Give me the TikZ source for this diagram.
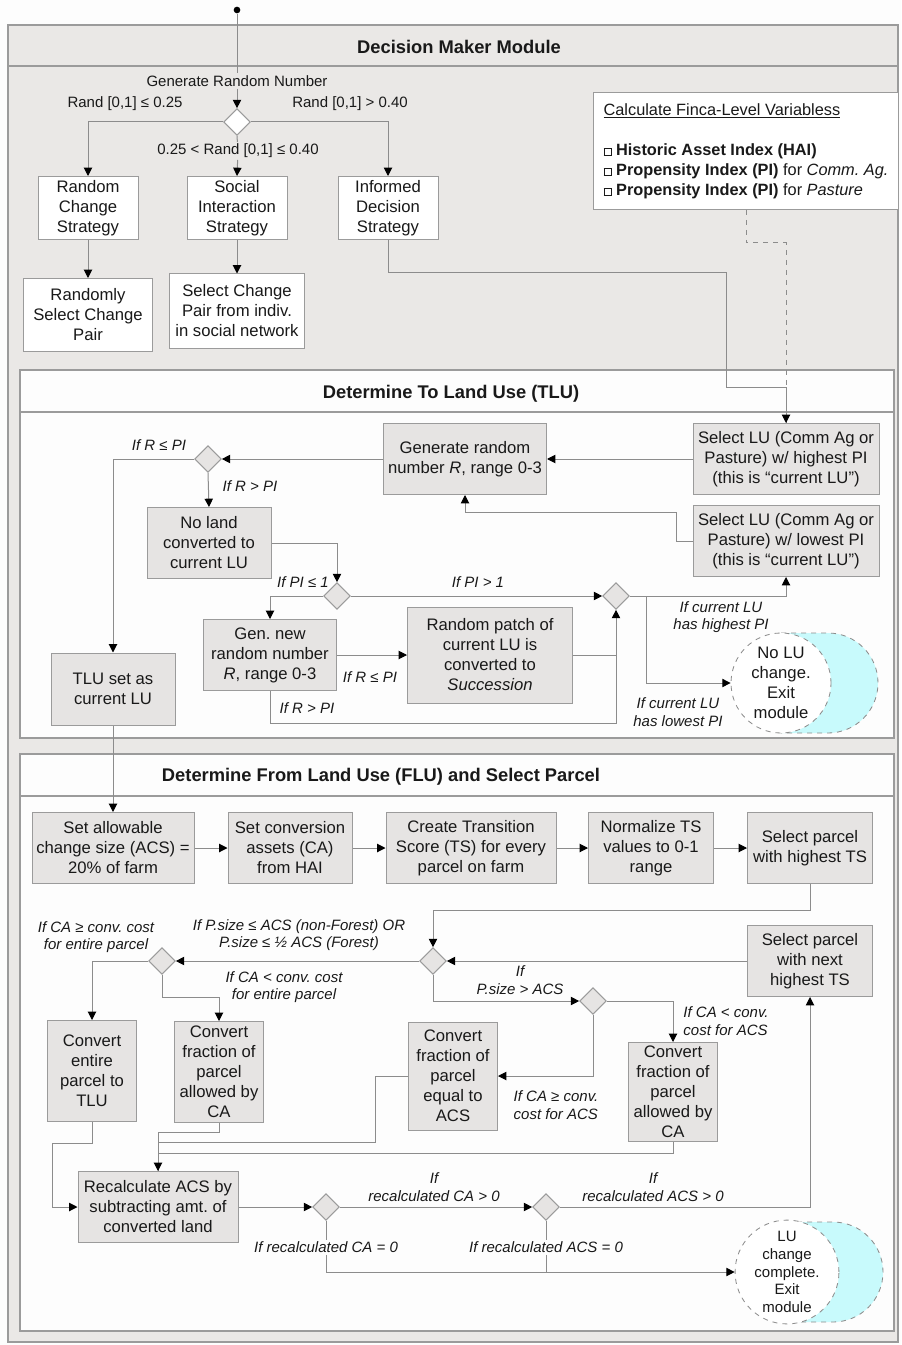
\documentclass[tikz,border=0pt]{standalone}
\usepackage{fontspec}
\setmainfont{Liberation Sans}
\usetikzlibrary{arrows.meta,positioning,shapes.geometric}
\frenchspacing

\definecolor{panel}{RGB}{234,232,230}
\definecolor{boxgray}{RGB}{230,228,227}
\definecolor{sheet}{RGB}{253,253,253}
\definecolor{linec}{RGB}{140,140,140}
\definecolor{edge}{RGB}{155,155,155}
\definecolor{moon}{RGB}{200,250,252}
\definecolor{ink}{RGB}{25,25,25}

\newcommand{\chk}{\raisebox{0ex}{\fboxsep=0pt\fboxrule=0.4pt\fbox{\rule{0pt}{4pt}\hspace{4pt}}}}

\begin{document}
\begin{tikzpicture}[x=0.6pt, y=-0.6pt,
  font=\fontsize{10}{12}\selectfont, text=ink,
  sz/.style 2 args={minimum width=#1*0.6pt, minimum height=#2*0.6pt},
  wbox/.style={draw=edge, fill=white, align=center, inner sep=2pt, line width=0.6pt},
  gbox/.style={draw=edge, fill=boxgray, align=center, inner sep=2pt, line width=0.6pt},
  cond/.style={diamond, draw=edge, fill=boxgray, minimum width=16pt,
    minimum height=16pt, inner sep=0pt, line width=0.6pt},
  lbl/.style={font=\fontsize{9}{10.5}\selectfont\itshape, align=center, inner sep=1pt},
  plbl/.style={lbl, font=\fontsize{9}{10.5}\selectfont},
  ln/.style={draw=linec, line width=0.6pt},
  arr/.style={ln, -{Triangle[length=5pt, width=5pt, color=black]}},
  term/.style={circle, draw=linec, dashed, fill=white, align=center,
    minimum size=60pt, inner sep=0pt, line width=0.5pt},
  moonfill/.style={draw=linec, dashed, fill=moon, line width=0.5pt},
  secframe/.style={draw=edge, line width=1pt},
  ttl/.style={font=\fontsize{11}{13}\selectfont\bfseries}
]
\useasboundingbox (0,0) rectangle (901,1345);
\fill[sheet] (0,0) rectangle (901,1345);

% module frame and the two sub-sections
\draw[secframe, fill=panel] (8,25) rectangle (898,1342);
\draw[secframe] (8,66) -- (898,66);
\node[ttl] (dmm) at (459,47) {Decision Maker Module};

\draw[secframe, fill=sheet] (20,370) rectangle (894,738);
\draw[secframe] (20,412) -- (894,412);
\node[ttl] (tlut) at (451,394) {Determine To Land Use (TLU)};

\draw[secframe, fill=sheet] (20,754) rectangle (894,1331);
\draw[secframe] (20,796) -- (894,796);
\node[ttl] (flut) at (381,777) {Determine From Land Use (FLU) and Select Parcel};

% strategy choice
\node[circle, fill=black, inner sep=0pt, minimum size=4pt] (start) at (237,10) {};
\node[plbl, fill=panel] (genlbl) at (237,81) {Generate Random Number};
\node[cond, fill=white] (dec0) at (237,122) {};
\node[wbox, sz={100}{63}] (rcs) at (88,208) {Random\\Change\\Strategy};
\node[wbox, sz={100}{63}] (sis) at (237,208) {Social\\Interaction\\Strategy};
\node[wbox, sz={100}{63}] (ids) at (388,208) {Informed\\Decision\\Strategy};
\node[wbox, sz={129}{73}] (rscp) at (88,315) {Randomly\\Select Change\\Pair};
\node[wbox, sz={135}{74}] (scp) at (237,311) {Select Change\\Pair from indiv.\\in social network};
\node[wbox, anchor=north west, sz={305}{117}, align=left, font=\fontsize{9.8}{12}\selectfont] (finca) at (593,92)
  {\underline{Calculate Finca-Level Variabless}\\[12pt]
   \chk\ \textbf{Historic Asset Index (HAI)}\\
   \chk\ \textbf{Propensity Index (PI)} for \textit{Comm. Ag.}\\
   \chk\ \textbf{Propensity Index (PI)} for \textit{Pasture}};

\node[plbl] (l25) at (125,104) {Rand [0,1] ≤ 0.25};
\node[plbl] (l40) at (350,104) {Rand [0,1] > 0.40};
\node[plbl, fill=panel] (lmid) at (238,151) {0.25 < Rand [0,1] ≤ 0.40};

\draw[ln] (start) -- (genlbl);
\draw[arr] (genlbl) -- (dec0);
\draw[arr] (dec0.west) -| (rcs.north);
\draw[arr] (dec0.east) -| (ids.north);
\draw[ln] (dec0.south) -- (lmid);
\draw[arr] (lmid) -- (sis.north);
\draw[arr] (rcs) -- (rscp);
\draw[arr] (sis) -- (scp);

% to land use
\node[gbox, sz={163}{71}] (genr) at (465,459) {Generate random\\number \textit{R}, range 0-3};
\node[gbox, sz={186}{71}] (selhi) at (786,459) {Select LU (Comm Ag or\\Pasture) w/ highest PI\\(this is “current LU”)};
\node[gbox, sz={186}{71}] (sello) at (786,541) {Select LU (Comm Ag or\\Pasture) w/ lowest PI\\(this is “current LU”)};
\node[cond] (d1) at (208,459) {};
\node[gbox, sz={124}{71}] (noland) at (209,543) {No land\\converted to\\current LU};
\node[cond] (d2) at (337,596) {};
\node[gbox, sz={133}{71}] (gennew) at (270,655) {Gen. new\\random number\\\textit{R}, range 0-3};
\node[cond] (d3) at (616,596) {};
\node[gbox, sz={165}{96}] (patch) at (490,655) {Random patch of\\current LU is\\converted to\\\textit{Succession}};
\node[gbox, sz={124}{72}] (tluset) at (113,689) {TLU set as\\current LU};
\coordinate (nolup) at (781,683);
\draw[moonfill] (nolup) ++(0,-50) -- ++(47,0) arc[start angle=90, end angle=-90, radius=30pt] -- ++(-47,0) -- cycle;
\node[term] (nolu) at (nolup) {No LU\\change.\\Exit\\module};

\node[lbl] (lr1) at (159,445) {If R ≤ PI};
\node[lbl] (lr2) at (250,486) {If R > PI};
\node[lbl] (lpi1) at (303,582) {If PI ≤ 1};
\node[lbl] (lpi2) at (478,582) {If PI > 1};
\node[lbl] (lr3) at (370,677) {If R ≤ PI};
\node[lbl] (lr4) at (307,708) {If R > PI};
\node[lbl] (lhi) at (721,617) {If current LU\\has highest PI};
\node[lbl] (llo) at (678,712) {If current LU\\has lowest PI};

\draw[ln, dashed] (finca.south) -- ++(0,33) -| (selhi.north);
\draw[arr] (ids.south) -- ++(0,33) -- ++(338,0) -- ++(0,114) -| (selhi.north);
\draw[arr] (selhi) -- (genr);
\draw[arr] (sello.west) -- ++(-16,0) -- ++(0,-29) -| (genr.south);
\draw[arr] (genr) -- (d1);
\draw[arr] (d1.west) -| (tluset.north);
\draw[arr] (d1.south) -- (noland.north);
\draw[arr] (noland.east) -| (d2.north);
\draw[arr] (d2.west) -| (gennew.north);
\draw[arr] (d2.east) -- (d3.west);
\draw[arr] (gennew) -- (patch);
\draw[ln] (patch.east) -- (patch.east -| d3.south);
\draw[arr] (gennew.south) -- ++(0,32) -| (d3.south);
\draw[arr] (d3.east) -| (sello.south);
\draw[arr] (d3.east) -- ++(17,0) |- (nolu.west);

% from land use and parcel selection
\node[gbox, sz={162}{71}] (setacs) at (113,848) {Set allowable\\change size (ACS) =\\20\% of farm};
\node[gbox, sz={124}{71}] (setca) at (290,848) {Set conversion\\assets (CA)\\from HAI};
\node[gbox, sz={170}{71}] (crts) at (471,848) {Create Transition\\Score (TS) for every\\parcel on farm};
\node[gbox, sz={125}{71}] (norm) at (651,848) {Normalize TS\\values to 0-1\\range};
\node[gbox, sz={125}{71}] (selts) at (810,848) {Select parcel\\with highest TS};
\node[gbox, sz={125}{71}] (selnext) at (810,961) {Select parcel\\with next\\highest TS};
\node[cond] (da) at (433,961) {};
\node[cond] (db) at (162,961) {};
\node[cond] (dc) at (593,1001) {};
\node[gbox, sz={89}{101}] (conventire) at (92,1071) {Convert\\entire\\parcel to\\TLU};
\node[gbox, sz={89}{101}] (convcal) at (219,1072) {Convert\\fraction of\\parcel\\allowed by\\CA};
\node[gbox, sz={89}{108}] (convacs) at (453,1076) {Convert\\fraction of\\parcel\\equal to\\ACS};
\node[gbox, sz={89}{99}] (convcar) at (673,1092) {Convert\\fraction of\\parcel\\allowed by\\CA};
\node[gbox, sz={160}{71}] (recalc) at (158,1207) {Recalculate ACS by\\subtracting amt. of\\converted land};
\node[cond] (dd) at (326,1207) {};
\node[cond] (de) at (546,1207) {};
\coordinate (luccp) at (787,1272);
\draw[moonfill] (luccp) ++(0,-50) -- ++(46,0) arc[start angle=90, end angle=-90, radius=30pt] -- ++(-46,0) -- cycle;
\node[term, font=\fontsize{9}{10.6}\selectfont] (lucc) at (luccp) {LU\\change\\complete.\\Exit\\module};

\node[lbl] (lps) at (299,935) {If P.size ≤ ACS (non-Forest) OR\\P.size ≤ ½ ACS (Forest)};
\node[lbl] (lcage) at (96,937) {If CA ≥ conv. cost\\for entire parcel};
\node[lbl] (lcalt) at (284,987) {If CA < conv. cost\\for entire parcel};
\node[lbl] (lpgt) at (520,980) {If\\P.size > ACS};
\node[lbl, align=left] (lacslt) at (726,1021) {If CA < conv.\\cost for ACS};
\node[lbl, align=left] (lacsge) at (556,1105) {If CA ≥ conv.\\cost for ACS};
\node[lbl] (lcagt) at (434,1187) {If\\recalculated CA > 0};
\node[lbl] (lacsgt) at (653,1187) {If\\recalculated ACS > 0};
\node[lbl, fill=sheet] (lcaeq) at (326,1247) {If recalculated CA = 0};
\node[lbl, fill=sheet] (lacseq) at (546,1247) {If recalculated ACS = 0};

\draw[arr] (tluset.south) -- (setacs.north);
\draw[arr] (setacs) -- (setca);
\draw[arr] (setca) -- (crts);
\draw[arr] (crts) -- (norm);
\draw[arr] (norm) -- (selts);
\draw[arr] (selts.south) -- ++(0,26) -| (da.north);
\draw[arr] (selnext) -- (da);
\draw[arr] (da) -- (db);
\draw[arr] (db.west) -| (conventire.north);
\draw[arr] (db.south) -- ++(0,23) -| (convcal.north);
\draw[arr] (da.south) |- (dc.west);
\draw[arr] (dc.east) -| (convcar.north);
\draw[arr] (dc.south) |- (convacs.east);
\draw[ln] (convacs.west) -- ++(-33,0) -- ++(0,66) -| (recalc.north);
\draw[ln] (convcar.south) -- ++(0,11) -| (recalc.north);
\draw[arr] (convcal.south) -- ++(0,9) -| (recalc.north);
\draw[arr] (conventire.south) -- ++(0,21) -- ++(-40,0) |- (recalc.west);
\draw[arr] (recalc) -- (dd);
\draw[arr] (dd) -- (de);
\draw[ln] (dd.south) -- (lcaeq);
\draw[arr] (lcaeq) |- (lucc.west);
\draw[ln] (de.south) -- (lacseq);
\draw[ln] (lacseq) -- (lacseq |- lucc.west);
\draw[arr] (de.east) -| (selnext.south);
\end{tikzpicture}
\end{document}
